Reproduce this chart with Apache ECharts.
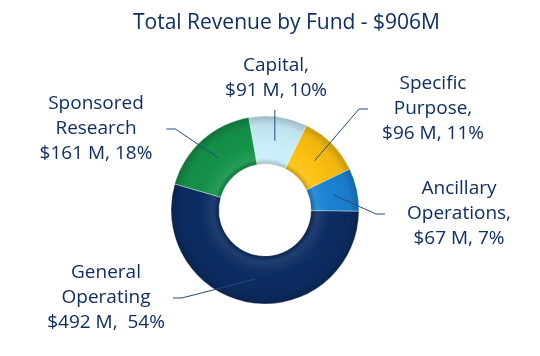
<!DOCTYPE html>
<html>
<head>
<meta charset="utf-8">
<script src="https://cdn.jsdelivr.net/npm/echarts@6/dist/echarts.min.js"></script>
<style>
html,body{margin:0;padding:0;background:#fff;}
#chart{width:540px;height:356px;}
</style>
</head>
<body>
<div id="chart"></div>
<script>
// Data
const titleText = 'Total Revenue by Fund - $906M';
const categories = ['Capital', 'Specific Purpose', 'Ancillary Operations', 'General Operating', 'Sponsored Research'];
const labelNames = ['Capital,', 'Specific\nPurpose,', 'Ancillary\nOperations,', 'General\nOperating', 'Sponsored\nResearch'];
const values = [91, 96, 67, 492, 161];
const valueSeparators = [', ', ', ', ', ', ',  ', ', '];
const colors = ['#C9EEFA', '#FDC011', '#1B82D2', '#0C2D63', '#15924A'];

// Layout (label block centres, leader gaps)
const labelAnchors = [[276, 78], [433, 109], [459, 214], [106, 298], [96, 129]];
const leaderGaps = [0, 14, 22, 8, 14];

const CX = 265, CY = 210, R0 = 46, R1 = 94;

function shade(hex, f) {
  const n = parseInt(hex.slice(1), 16);
  let r = (n >> 16) & 255, g = (n >> 8) & 255, b = n & 255;
  const adj = c => f >= 0 ? Math.round(c + (255 - c) * f) : Math.round(c * (1 + f));
  return 'rgb(' + adj(r) + ',' + adj(g) + ',' + adj(b) + ')';
}
function tubeFill(hex) {
  const s = R0 / R1;
  return {
    type: 'radial', x: CX, y: CY, r: R1, global: true,
    colorStops: [
      { offset: 0, color: shade(hex, -0.25) },
      { offset: s, color: shade(hex, -0.2) },
      { offset: s + 0.06, color: shade(hex, 0.08) },
      { offset: s + 0.2, color: hex },
      { offset: 0.9, color: shade(hex, -0.05) },
      { offset: 1, color: shade(hex, -0.22) }
    ]
  };
}

const chart = echarts.init(document.getElementById('chart'));
const textColor = '#0F2F62';
const lineColor = '#234A80';
const font = '"Open Sans", "Noto Sans", sans-serif';
const labelSizes = [];

chart.setOption({
  backgroundColor: '#ffffff',
  animation: false,
  title: {
    text: titleText,
    left: 128,
    top: 8,
    textStyle: { fontFamily: font, fontSize: 21, fontWeight: 'normal', color: textColor }
  },
  series: [{
    type: 'pie',
    center: [CX, CY],
    radius: [R0, R1],
    startAngle: 100,
    clockwise: true,
    percentPrecision: 0,
    avoidLabelOverlap: false,
    data: categories.map((c, i) => ({
      name: c,
      value: values[i],
      itemStyle: { color: tubeFill(colors[i]) }
    })),
    itemStyle: { borderColor: 'rgba(255,255,255,0.35)', borderWidth: 1 },
    label: {
      show: true,
      position: 'outside',
      color: textColor,
      fontFamily: font,
      fontSize: 19,
      lineHeight: 25,
      align: 'center',
      formatter: p => labelNames[p.dataIndex] + '\n$' + p.value + ' M' + valueSeparators[p.dataIndex] + p.percent + '%'
    },
    labelLine: { show: false },
    labelLayout: function (params) {
      const a = labelAnchors[params.dataIndex];
      labelSizes[params.dataIndex] = [params.labelRect.width, params.labelRect.height];
      return { x: a[0], y: a[1], align: 'center', verticalAlign: 'middle' };
    }
  }]
});

// Leader lines built from the pie's own sector layout
const pieData = chart.getModel().getSeriesByIndex(0).getData();
const leaders = [];
for (let i = 0; i < categories.length; i++) {
  const L = pieData.getItemLayout(i);
  const mid = (L.startAngle + L.endAngle) / 2;
  const rIn = (L.r0 + L.r) / 2;
  const start = [L.cx + Math.cos(mid) * rIn, L.cy + Math.sin(mid) * rIn];
  const a = labelAnchors[i];
  const sz = labelSizes[i] || [110, 75];
  let pts;
  if (Math.abs(start[0] - a[0]) < sz[0] / 2 && start[1] > a[1]) {
    const top = a[1] + sz[1] / 2 + 7;
    pts = [start, [start[0], top]];
  } else {
    const side = a[0] > L.cx ? -1 : 1;
    const end = [a[0] + side * (sz[0] / 2 + leaderGaps[i]), a[1]];
    pts = [start, [end[0] + side * 9, a[1]], end];
  }
  leaders.push({
    type: 'polyline',
    z: 100,
    silent: true,
    shape: { points: pts },
    style: { stroke: lineColor, lineWidth: 1, fill: null }
  });
}
chart.setOption({ graphic: leaders });
</script>
</body>
</html>
